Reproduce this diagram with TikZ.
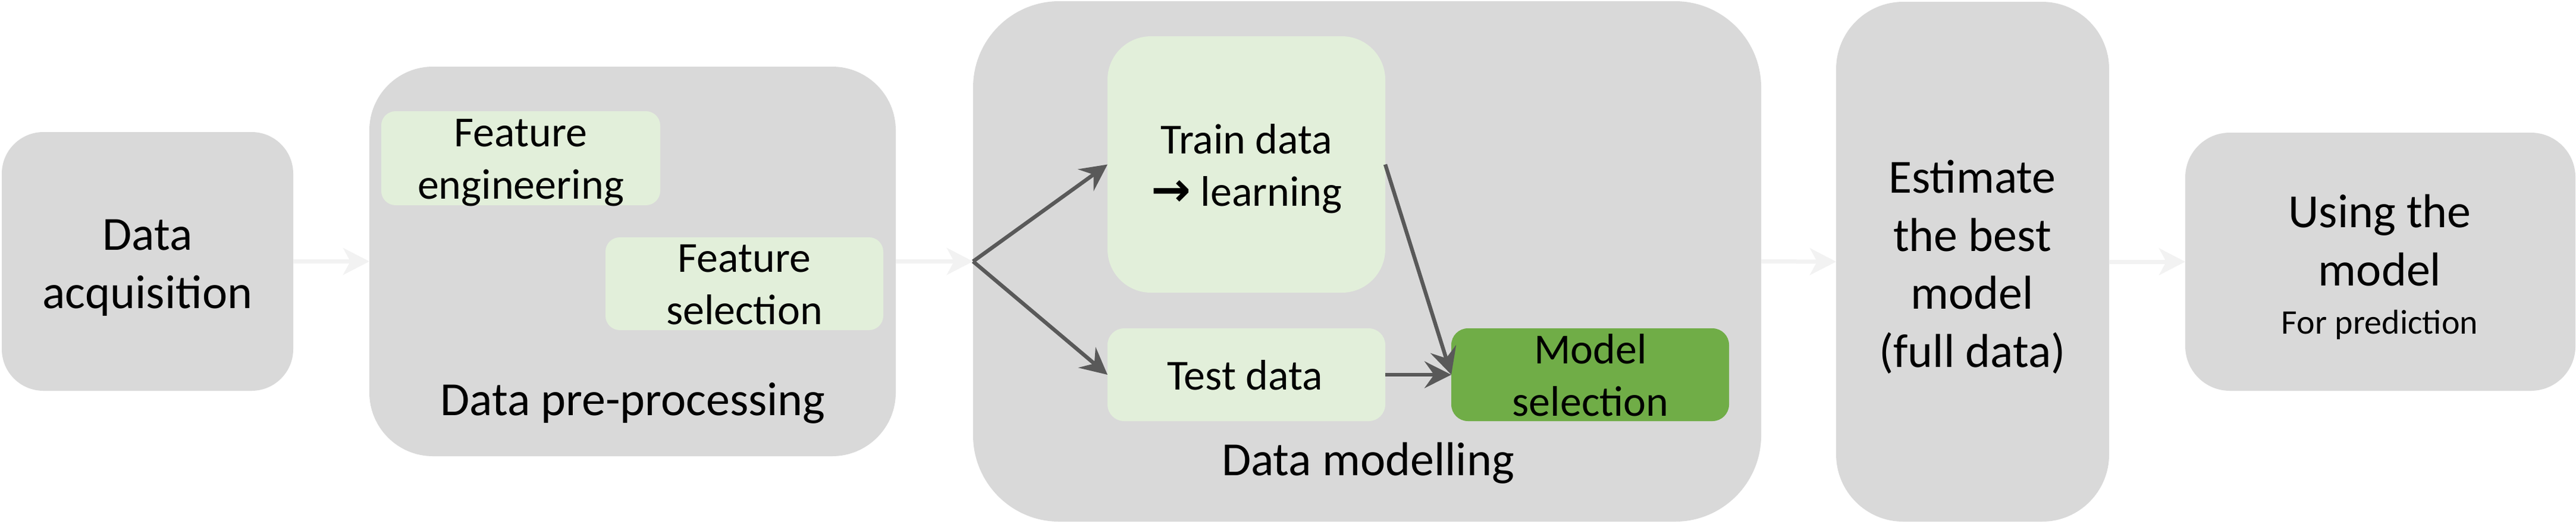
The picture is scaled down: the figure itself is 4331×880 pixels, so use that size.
\documentclass[tikz,border=0pt]{standalone}
\usepackage{fontspec}
\setmainfont{Carlito}
\newfontfamily\arrowfont{DejaVu Sans}
\usetikzlibrary{arrows.meta}
\definecolor{boxgray}{HTML}{D9D9D9}
\definecolor{lightgreen}{HTML}{E2EFDA}
\definecolor{midgreen}{HTML}{70AD47}
\definecolor{arrowdark}{HTML}{595959}
\definecolor{arrowlight}{HTML}{F2F2F2}
\begin{document}
\begin{tikzpicture}[x=0.25pt,y=-0.25pt,
  box/.style={fill=boxgray, draw=none, inner sep=0pt, outer sep=0pt},
  gbox/.style={fill=lightgreen, draw=none, inner sep=0pt, outer sep=0pt},
  mbox/.style={fill=midgreen, draw=none, inner sep=0pt, outer sep=0pt},
  txtbig/.style={inner sep=0pt, align=center, text=black, font=\fontsize{20}{24.4}\selectfont},
  txtmid/.style={inner sep=0pt, align=center, text=black, font=\fontsize{18}{22}\selectfont},
  larr/.style={draw=arrowlight, line width=1.75pt, -{Stealth[length=11pt,width=11.25pt,inset=3pt]}},
  darr/.style={draw=arrowdark, line width=1.6pt, -{Stealth[length=11.25pt,width=11.25pt,inset=4pt]}}
]
\useasboundingbox (0,0) rectangle (4331,880);
% main boxes
\node[box, minimum width=122.5pt, minimum height=108.75pt, rounded corners=17.5pt] (acq) at (248,439.5) {};
\node[box, minimum width=221.25pt, minimum height=163.75pt, rounded corners=26.75pt] (pre) at (1063.5,439.5) {};
\node[box, minimum width=331.25pt, minimum height=218.75pt, rounded corners=36.25pt] (mod) at (2298.5,439.5) {};
\node[box, minimum width=114.75pt, minimum height=218.5pt, rounded corners=28.25pt] (est) at (3316.5,440) {};
\node[box, minimum width=164pt, minimum height=108.5pt, rounded corners=18.75pt] (use) at (4002,440) {};
% inner boxes
\node[gbox, minimum width=117.25pt, minimum height=39.5pt, rounded corners=6pt] (fe) at (875.5,266) {};
\node[gbox, minimum width=116.75pt, minimum height=39pt, rounded corners=6pt] (fs) at (1251.5,477) {};
\node[gbox, minimum width=116.75pt, minimum height=107.75pt, rounded corners=18.25pt] (train) at (2095.5,276.5) {};
\node[gbox, minimum width=116.75pt, minimum height=39pt, rounded corners=7pt] (test) at (2095.5,630) {};
\node[mbox, minimum width=116.75pt, minimum height=39pt, rounded corners=7pt] (model) at (2673.5,630) {};
% texts
\node[txtbig] (tacq) at (248,450) {Data\\acquisition};
\node[txtmid] (tfe) at (875.5,274) {Feature\\engineering};
\node[txtmid] (tfs) at (1251.5,479) {Feature\\selection};
\node[txtbig] (tpre) at (1064,678) {Data pre-processing};
\node[txtmid] (ttrain) at (2096,284) {Train data\\{\arrowfont\bfseries\fontsize{20}{22}\selectfont →} learning};
\node[txtmid] (ttest) at (2093,631) {Test data};
\node[txtmid] (tmodel) at (2674,631) {Model\\selection};
\node[txtbig] (tmod) at (2300,779) {Data modelling};
\node[txtbig] (test2) at (3316,449) {Estimate\\the best\\model\\(full data)};
\node[txtbig] (tuse) at (4001,449) {Using the\\model\\[-4.2pt]{\fontsize{14.5}{17}\selectfont For prediction}};
% connectors
\draw[larr] (acq.east) -- (pre.west);
\draw[larr] (pre.east) -- (mod.west);
\draw[larr] (mod.east) -- (est.west);
\draw[larr] (est.east) -- (use.west);
\coordinate (fork) at (mod.west);
\draw[darr] (fork) -- (train.west);
\draw[darr] (fork) -- (test.west);
\draw[darr] (train.east) -- (model.west);
\draw[darr] (test.east) -- (model.west);
\end{tikzpicture}
\end{document}
